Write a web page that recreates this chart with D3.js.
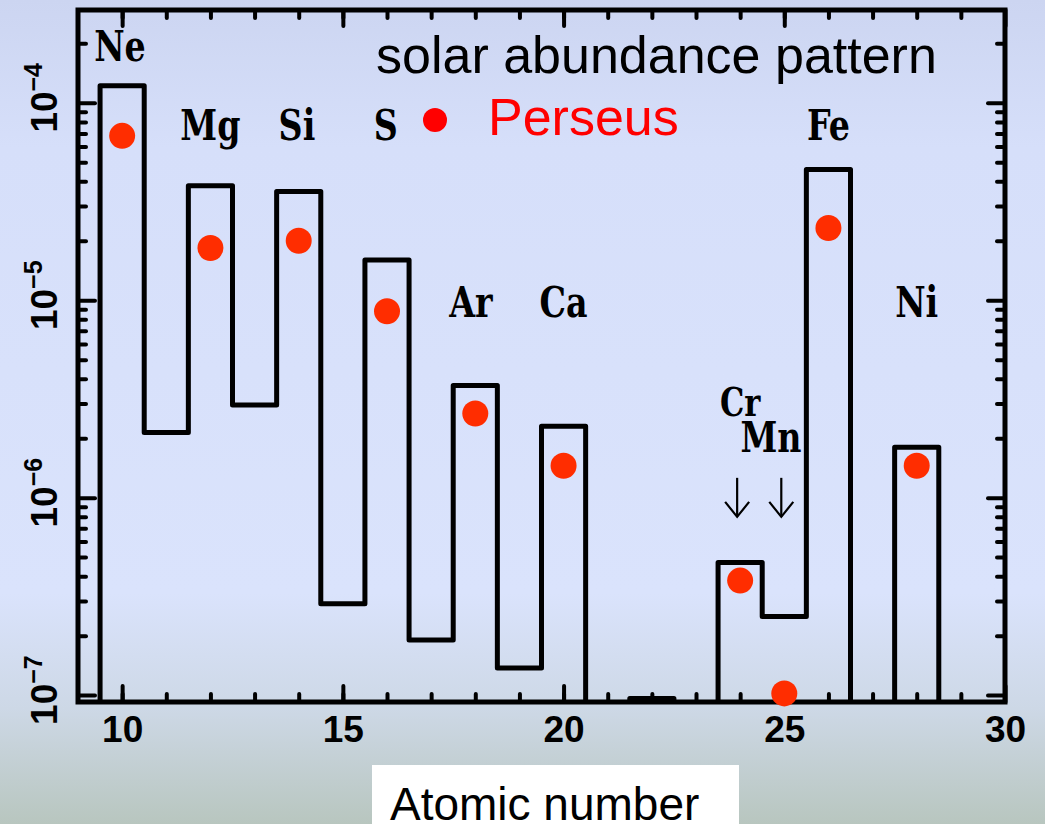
<!DOCTYPE html>
<html>
<head>
<meta charset="utf-8">
<script src="https://cdn.jsdelivr.net/npm/d3@7"></script>
<style>
  html, body { margin: 0; padding: 0; }
  svg { display: block; }
</style>
</head>
<body>
<div id="app"></div>
<script>
// DATA
// solar abundance pattern, one step per element (Z = 10..29)
const solarZ     = [10, 11, 12, 13, 14, 15, 16, 17, 18, 19, 20, 21, 22, 23, 24, 25, 26, 27, 28, 29];
const solarAbund = [1.22e-4, 2.14e-6, 3.8e-5, 2.95e-6, 3.55e-5, 2.9e-7, 1.6e-5, 1.9e-7, 3.7e-6, 1.37e-7,
                    2.3e-6, 1.1e-9, 9.6e-8, 1.0e-8, 4.7e-7, 2.5e-7, 4.6e-5, 8.0e-8, 1.8e-6, 1.6e-8];

// Perseus measurements
const perseusZ     = [10, 12, 14, 16, 18, 20, 24, 25, 26, 28];
const perseusAbund = [6.8e-5, 1.84e-5, 2.0e-5, 8.8e-6, 2.67e-6, 1.45e-6, 3.8e-7, 1.02e-7, 2.32e-5, 1.45e-6];

// element labels, anchored in data coordinates
const labelNames = ['Ne', 'Mg', 'Si', 'S', 'Ar', 'Ca', 'Fe', 'Ni', 'Cr', 'Mn'];
const labelZ     = [9.95, 12.0, 13.96, 15.97, 17.9, 20.0, 26.0, 28.0, 24.0, 24.7];
const labelAt    = [1.62e-4, 6.5e-5, 6.5e-5, 6.5e-5, 8.2e-6, 8.2e-6, 6.5e-5, 8.2e-6, 2.6e-6, 1.7e-6];

// upper-limit arrows (Cr, Mn)
const arrowZ = [24, 25];

const xMajor = [10, 15, 20, 25, 30];
const yMajor = [1e-7, 1e-6, 1e-5, 1e-4];
const yExp   = ['\u22127', '\u22126', '\u22125', '\u22124'];

// LAYOUT
const W = 1045, H = 824;
const padL = 78, padR = 1005, padT = 10, padB = 702;

const x = d3.scaleLinear().domain([9, 30]).range([padL, padR]);
const y = d3.scaleLog().domain([Math.pow(10, -7.035), Math.pow(10, -3.53)]).range([padB, padT]);

const svg = d3.select('#app').append('svg')
  .attr('width', W)
  .attr('height', H);

// background gradient
const defs = svg.append('defs');
const grad = defs.append('linearGradient')
  .attr('id', 'bg')
  .attr('x1', 0).attr('y1', 0).attr('x2', 0).attr('y2', 1);
[[0, '#ccd5f1'], [0.18, '#d6dffa'], [0.72, '#dae3fc'], [0.86, '#cdd8e6'], [1, '#b8c6bf']]
  .forEach(s => grad.append('stop').attr('offset', s[0]).attr('stop-color', s[1]));

svg.append('rect').attr('width', W).attr('height', H).attr('fill', 'url(#bg)');

defs.append('clipPath').attr('id', 'plot')
  .append('rect')
  .attr('x', padL).attr('y', padT)
  .attr('width', padR - padL).attr('height', padB - padT);

// histogram
const steps = [[9.5, 1e-9]];
solarZ.forEach((z, i) => {
  steps.push([z - 0.5, solarAbund[i]]);
  steps.push([z + 0.5, solarAbund[i]]);
});
steps.push([29.5, 1e-9]);

svg.append('path')
  .attr('clip-path', 'url(#plot)')
  .attr('d', d3.line().x(d => x(d[0])).y(d => y(d[1]))(steps))
  .attr('fill', 'none')
  .attr('stroke', '#000')
  .attr('stroke-width', 5)
  .attr('stroke-linejoin', 'round');

// ticks
function tickAxis(axis, tx, ty) {
  const g = svg.append('g')
    .attr('transform', `translate(${tx},${ty})`)
    .call(axis);
  g.select('.domain').remove();
  g.selectAll('line').attr('stroke', '#000').attr('stroke-width', 4).attr('stroke-linecap', 'round');
  return g;
}

const xMinor = d3.range(10, 30);
const yMinor = [];
[-8, -7, -6, -5, -4].forEach(e => {
  for (let k = 2; k <= 9; k++) yMinor.push(k * Math.pow(10, e));
});
const yMinorIn = yMinor.filter(v => v > y.domain()[0] && v < y.domain()[1]);

tickAxis(d3.axisBottom(x).tickValues(xMinor).tickSize(-8).tickFormat(''), 0, padB);
tickAxis(d3.axisTop(x).tickValues(xMinor).tickSize(-8).tickFormat(''), 0, padT);
tickAxis(d3.axisTop(x).tickValues(xMajor).tickSize(-16).tickFormat(''), 0, padT);
tickAxis(d3.axisLeft(y).tickValues(yMinorIn).tickSize(-8).tickFormat(''), padL, 0);
tickAxis(d3.axisRight(y).tickValues(yMinorIn).tickSize(-8).tickFormat(''), padR, 0);
tickAxis(d3.axisLeft(y).tickValues(yMajor).tickSize(-17).tickFormat(''), padL, 0);
tickAxis(d3.axisRight(y).tickValues(yMajor).tickSize(-17).tickFormat(''), padR, 0);

const xAx = tickAxis(d3.axisBottom(x).tickValues(xMajor).tickSize(-16).tickPadding(14).tickFormat(d3.format('d')), 0, padB);
xAx.selectAll('text')
  .attr('fill', '#000')
  .attr('font-family', '"Liberation Sans", Arial, sans-serif')
  .attr('font-weight', 'bold')
  .attr('font-size', 37);

// frame
svg.append('rect')
  .attr('x', padL).attr('y', padT)
  .attr('width', padR - padL).attr('height', padB - padT)
  .attr('fill', 'none')
  .attr('stroke', '#000')
  .attr('stroke-width', 5);

// y labels, rotated 10^n
const yl = svg.append('g').selectAll('text')
  .data(yMajor)
  .enter()
    .append('text')
    .attr('transform', d => `translate(57,${y(d) - 5}) rotate(-90)`)
    .attr('text-anchor', 'middle')
    .attr('font-family', '"Liberation Sans", Arial, sans-serif')
    .attr('font-weight', 'bold')
    .attr('font-size', 37)
    .attr('fill', '#000');
yl.append('tspan').text('10');
yl.append('tspan')
  .attr('dy', -15)
  .attr('font-size', 25)
  .text((d, i) => yExp[i]);

// element labels
svg.append('g').selectAll('text')
  .data(labelNames)
  .enter()
    .append('text')
    .attr('transform', (d, i) => `translate(${x(labelZ[i])},${y(labelAt[i])}) scale(1,1.15)`)
    .attr('text-anchor', 'middle')
    .attr('font-family', '"DejaVu Serif", serif')
    .attr('font-stretch', 'condensed')
    .attr('font-weight', 'bold')
    .attr('font-size', (d, i) => i === 8 ? 34 : 37)
    .attr('fill', '#000')
    .text(d => d);

// upper-limit arrows
const ar = svg.append('g').selectAll('g')
  .data(arrowZ)
  .enter()
    .append('g')
    .attr('transform', d => `translate(${x(d) - 3},${y(1.26e-6)})`)
    .attr('stroke', '#000')
    .attr('stroke-width', 2.2)
    .attr('fill', 'none');
ar.append('line').attr('x1', 0).attr('y1', 0).attr('x2', 0).attr('y2', 39);
ar.append('path').attr('d', 'M-12,24 L0,39 L12,24');

// Perseus points
svg.append('g').selectAll('circle')
  .data(perseusZ)
  .enter()
    .append('circle')
    .attr('cx', d => x(d))
    .attr('cy', (d, i) => y(perseusAbund[i]))
    .attr('r', 13)
    .attr('fill', '#ff2d00');

// legend
svg.append('text')
  .attr('x', 376).attr('y', 73)
  .attr('font-family', '"Liberation Sans", Arial, sans-serif')
  .attr('font-size', 52)
  .attr('fill', '#000')
  .text('solar abundance pattern');
svg.append('circle')
  .attr('cx', 435).attr('cy', 120).attr('r', 12)
  .attr('fill', '#ff0000');
svg.append('text')
  .attr('x', 488).attr('y', 135)
  .attr('font-family', '"Liberation Sans", Arial, sans-serif')
  .attr('font-size', 52)
  .attr('fill', '#ff0000')
  .text('Perseus');

// x title
svg.append('rect')
  .attr('x', 372).attr('y', 765)
  .attr('width', 367).attr('height', 70)
  .attr('fill', '#fff');
svg.append('text')
  .attr('x', 390).attr('y', 820)
  .attr('font-family', '"Liberation Sans", Arial, sans-serif')
  .attr('font-size', 46)
  .attr('fill', '#000')
  .text('Atomic number');
</script>
</body>
</html>
